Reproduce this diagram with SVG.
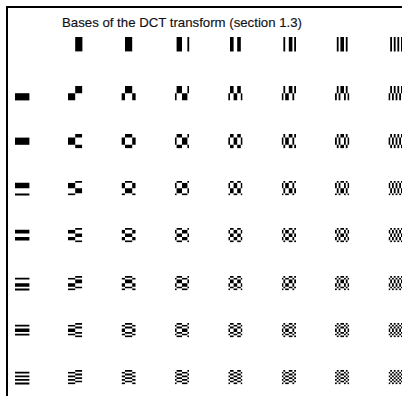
<svg xmlns="http://www.w3.org/2000/svg" xmlns:xlink="http://www.w3.org/1999/xlink" width="402" height="396" viewBox="0 0 402 396">
<style>
.title{font-family:"Liberation Sans Narrow","Liberation Sans",Arial,sans-serif;font-size:13px;fill:#101018;stroke:#101018;stroke-width:0.15}
.cell{fill:#000}
</style>
<defs>
<path id="full" d="M0 0h8v8h-8z"/>
<path id="xn1" d="M4 0h4v8h-4z"/>
<path id="xn2" d="M2 0h4v8h-4z"/>
<path id="xn3" d="M1 0h3v8h-3zM7 0h1v8h-1z"/>
<path id="xn4" d="M1 0h2v8h-2zM5 0h2v8h-2z"/>
<path id="xn5" d="M1 0h1v8h-1zM4 0h2v8h-2zM7 0h1v8h-1z"/>
<path id="xn6" d="M1 0h1v8h-1zM3 0h2v8h-2zM6 0h1v8h-1z"/>
<path id="xn7" d="M1 0h1v8h-1zM3 0h1v8h-1zM5 0h1v8h-1zM7 0h1v8h-1z"/>
<path id="xp1" d="M0 0h4v8h-4z"/>
<path id="xp2" d="M0 0h2v8h-2zM6 0h2v8h-2z"/>
<path id="xp3" d="M0 0h1v8h-1zM4 0h3v8h-3z"/>
<path id="xp4" d="M0 0h1v8h-1zM3 0h2v8h-2zM7 0h1v8h-1z"/>
<path id="xp5" d="M0 0h1v8h-1zM2 0h2v8h-2zM6 0h1v8h-1z"/>
<path id="xp6" d="M0 0h1v8h-1zM2 0h1v8h-1zM5 0h1v8h-1zM7 0h1v8h-1z"/>
<path id="xp7" d="M0 0h1v8h-1zM2 0h1v8h-1zM4 0h1v8h-1zM6 0h1v8h-1z"/>
<path id="hn1" d="M0 4h8v4h-8z"/>
<path id="hn2" d="M0 2h8v4h-8z"/>
<path id="hn3" d="M0 1h8v3h-8zM0 7h8v1h-8z"/>
<path id="hn4" d="M0 1h8v2h-8zM0 5h8v2h-8z"/>
<path id="hn5" d="M0 1h8v1h-8zM0 4h8v2h-8zM0 7h8v1h-8z"/>
<path id="hn6" d="M0 1h8v1h-8zM0 3h8v2h-8zM0 6h8v1h-8z"/>
<path id="hn7" d="M0 1h8v1h-8zM0 3h8v1h-8zM0 5h8v1h-8zM0 7h8v1h-8z"/>
<path id="hp1" d="M0 0h8v4h-8z"/>
<path id="hp2" d="M0 0h8v2h-8zM0 6h8v2h-8z"/>
<path id="hp3" d="M0 0h8v1h-8zM0 4h8v3h-8z"/>
<path id="hp4" d="M0 0h8v1h-8zM0 3h8v2h-8zM0 7h8v1h-8z"/>
<path id="hp5" d="M0 0h8v1h-8zM0 2h8v2h-8zM0 6h8v1h-8z"/>
<path id="hp6" d="M0 0h8v1h-8zM0 2h8v1h-8zM0 5h8v1h-8zM0 7h8v1h-8z"/>
<path id="hp7" d="M0 0h8v1h-8zM0 2h8v1h-8zM0 4h8v1h-8zM0 6h8v1h-8z"/>
<clipPath id="cn1"><use href="#hn1"/></clipPath>
<clipPath id="cn2"><use href="#hn2"/></clipPath>
<clipPath id="cn3"><use href="#hn3"/></clipPath>
<clipPath id="cn4"><use href="#hn4"/></clipPath>
<clipPath id="cn5"><use href="#hn5"/></clipPath>
<clipPath id="cn6"><use href="#hn6"/></clipPath>
<clipPath id="cn7"><use href="#hn7"/></clipPath>
<clipPath id="cp1"><use href="#hp1"/></clipPath>
<clipPath id="cp2"><use href="#hp2"/></clipPath>
<clipPath id="cp3"><use href="#hp3"/></clipPath>
<clipPath id="cp4"><use href="#hp4"/></clipPath>
<clipPath id="cp5"><use href="#hp5"/></clipPath>
<clipPath id="cp6"><use href="#hp6"/></clipPath>
<clipPath id="cp7"><use href="#hp7"/></clipPath>
</defs>
<rect width="402" height="396" fill="#fff"/>
<path d="M7 396V7H402" fill="none" stroke="#000" stroke-width="2"/>
<text class="title" x="62" y="27" textLength="240" lengthAdjust="spacingAndGlyphs">Bases of the DCT transform (section 1.3)</text>
<g id="header" class="cell">
<g id="c10" transform="translate(68,37) scale(1.8)"><use href="#xn1"/></g>
<g id="c20" transform="translate(121.4,37) scale(1.8)"><use href="#xn2"/></g>
<g id="c30" transform="translate(174.8,37) scale(1.8)"><use href="#xn3"/></g>
<g id="c40" transform="translate(228.2,37) scale(1.8)"><use href="#xn4"/></g>
<g id="c50" transform="translate(281.6,37) scale(1.8)"><use href="#xn5"/></g>
<g id="c60" transform="translate(335,37) scale(1.8)"><use href="#xn6"/></g>
<g id="c70" transform="translate(388.4,37) scale(1.8)"><use href="#xn7"/></g>
</g>
<g id="leftcol" class="cell">
<g id="c01" transform="translate(15,86) scale(1.8)"><use href="#hn1"/></g>
<g id="c02" transform="translate(15,134) scale(1.8)"><use href="#hn2"/></g>
<g id="c03" transform="translate(15,181) scale(1.8)"><use href="#hn3"/></g>
<g id="c04" transform="translate(15,228) scale(1.8)"><use href="#hn4"/></g>
<g id="c05" transform="translate(15,276) scale(1.8)"><use href="#hn5"/></g>
<g id="c06" transform="translate(15,323) scale(1.8)"><use href="#hn6"/></g>
<g id="c07" transform="translate(15,370) scale(1.8)"><use href="#hn7"/></g>
</g>
<g id="grid" class="cell">
<g id="c11" transform="translate(68,86) scale(1.8)"><use href="#xn1" clip-path="url(#cp1)"/><use href="#xp1" clip-path="url(#cn1)"/></g>
<g id="c21" transform="translate(121.4,86) scale(1.8)"><use href="#xn2" clip-path="url(#cp1)"/><use href="#xp2" clip-path="url(#cn1)"/></g>
<g id="c31" transform="translate(174.8,86) scale(1.8)"><use href="#xn3" clip-path="url(#cp1)"/><use href="#xp3" clip-path="url(#cn1)"/></g>
<g id="c41" transform="translate(228.2,86) scale(1.8)"><use href="#xn4" clip-path="url(#cp1)"/><use href="#xp4" clip-path="url(#cn1)"/></g>
<g id="c51" transform="translate(281.6,86) scale(1.8)"><use href="#xn5" clip-path="url(#cp1)"/><use href="#xp5" clip-path="url(#cn1)"/></g>
<g id="c61" transform="translate(335,86) scale(1.8)"><use href="#xn6" clip-path="url(#cp1)"/><use href="#xp6" clip-path="url(#cn1)"/></g>
<g id="c71" transform="translate(388.4,86) scale(1.8)"><use href="#xn7" clip-path="url(#cp1)"/><use href="#xp7" clip-path="url(#cn1)"/></g>
<g id="c12" transform="translate(68,134) scale(1.8)"><use href="#xn1" clip-path="url(#cp2)"/><use href="#xp1" clip-path="url(#cn2)"/></g>
<g id="c22" transform="translate(121.4,134) scale(1.8)"><use href="#xn2" clip-path="url(#cp2)"/><use href="#xp2" clip-path="url(#cn2)"/></g>
<g id="c32" transform="translate(174.8,134) scale(1.8)"><use href="#xn3" clip-path="url(#cp2)"/><use href="#xp3" clip-path="url(#cn2)"/></g>
<g id="c42" transform="translate(228.2,134) scale(1.8)"><use href="#xn4" clip-path="url(#cp2)"/><use href="#xp4" clip-path="url(#cn2)"/></g>
<g id="c52" transform="translate(281.6,134) scale(1.8)"><use href="#xn5" clip-path="url(#cp2)"/><use href="#xp5" clip-path="url(#cn2)"/></g>
<g id="c62" transform="translate(335,134) scale(1.8)"><use href="#xn6" clip-path="url(#cp2)"/><use href="#xp6" clip-path="url(#cn2)"/></g>
<g id="c72" transform="translate(388.4,134) scale(1.8)"><use href="#xn7" clip-path="url(#cp2)"/><use href="#xp7" clip-path="url(#cn2)"/></g>
<g id="c13" transform="translate(68,181) scale(1.8)"><use href="#xn1" clip-path="url(#cp3)"/><use href="#xp1" clip-path="url(#cn3)"/></g>
<g id="c23" transform="translate(121.4,181) scale(1.8)"><use href="#xn2" clip-path="url(#cp3)"/><use href="#xp2" clip-path="url(#cn3)"/></g>
<g id="c33" transform="translate(174.8,181) scale(1.8)"><use href="#xn3" clip-path="url(#cp3)"/><use href="#xp3" clip-path="url(#cn3)"/></g>
<g id="c43" transform="translate(228.2,181) scale(1.8)"><use href="#xn4" clip-path="url(#cp3)"/><use href="#xp4" clip-path="url(#cn3)"/></g>
<g id="c53" transform="translate(281.6,181) scale(1.8)"><use href="#xn5" clip-path="url(#cp3)"/><use href="#xp5" clip-path="url(#cn3)"/></g>
<g id="c63" transform="translate(335,181) scale(1.8)"><use href="#xn6" clip-path="url(#cp3)"/><use href="#xp6" clip-path="url(#cn3)"/></g>
<g id="c73" transform="translate(388.4,181) scale(1.8)"><use href="#xn7" clip-path="url(#cp3)"/><use href="#xp7" clip-path="url(#cn3)"/></g>
<g id="c14" transform="translate(68,228) scale(1.8)"><use href="#xn1" clip-path="url(#cp4)"/><use href="#xp1" clip-path="url(#cn4)"/></g>
<g id="c24" transform="translate(121.4,228) scale(1.8)"><use href="#xn2" clip-path="url(#cp4)"/><use href="#xp2" clip-path="url(#cn4)"/></g>
<g id="c34" transform="translate(174.8,228) scale(1.8)"><use href="#xn3" clip-path="url(#cp4)"/><use href="#xp3" clip-path="url(#cn4)"/></g>
<g id="c44" transform="translate(228.2,228) scale(1.8)"><use href="#xn4" clip-path="url(#cp4)"/><use href="#xp4" clip-path="url(#cn4)"/></g>
<g id="c54" transform="translate(281.6,228) scale(1.8)"><use href="#xn5" clip-path="url(#cp4)"/><use href="#xp5" clip-path="url(#cn4)"/></g>
<g id="c64" transform="translate(335,228) scale(1.8)"><use href="#xn6" clip-path="url(#cp4)"/><use href="#xp6" clip-path="url(#cn4)"/></g>
<g id="c74" transform="translate(388.4,228) scale(1.8)"><use href="#xn7" clip-path="url(#cp4)"/><use href="#xp7" clip-path="url(#cn4)"/></g>
<g id="c15" transform="translate(68,276) scale(1.8)"><use href="#xn1" clip-path="url(#cp5)"/><use href="#xp1" clip-path="url(#cn5)"/></g>
<g id="c25" transform="translate(121.4,276) scale(1.8)"><use href="#xn2" clip-path="url(#cp5)"/><use href="#xp2" clip-path="url(#cn5)"/></g>
<g id="c35" transform="translate(174.8,276) scale(1.8)"><use href="#xn3" clip-path="url(#cp5)"/><use href="#xp3" clip-path="url(#cn5)"/></g>
<g id="c45" transform="translate(228.2,276) scale(1.8)"><use href="#xn4" clip-path="url(#cp5)"/><use href="#xp4" clip-path="url(#cn5)"/></g>
<g id="c55" transform="translate(281.6,276) scale(1.8)"><use href="#xn5" clip-path="url(#cp5)"/><use href="#xp5" clip-path="url(#cn5)"/></g>
<g id="c65" transform="translate(335,276) scale(1.8)"><use href="#xn6" clip-path="url(#cp5)"/><use href="#xp6" clip-path="url(#cn5)"/></g>
<g id="c75" transform="translate(388.4,276) scale(1.8)"><use href="#xn7" clip-path="url(#cp5)"/><use href="#xp7" clip-path="url(#cn5)"/></g>
<g id="c16" transform="translate(68,323) scale(1.8)"><use href="#xn1" clip-path="url(#cp6)"/><use href="#xp1" clip-path="url(#cn6)"/></g>
<g id="c26" transform="translate(121.4,323) scale(1.8)"><use href="#xn2" clip-path="url(#cp6)"/><use href="#xp2" clip-path="url(#cn6)"/></g>
<g id="c36" transform="translate(174.8,323) scale(1.8)"><use href="#xn3" clip-path="url(#cp6)"/><use href="#xp3" clip-path="url(#cn6)"/></g>
<g id="c46" transform="translate(228.2,323) scale(1.8)"><use href="#xn4" clip-path="url(#cp6)"/><use href="#xp4" clip-path="url(#cn6)"/></g>
<g id="c56" transform="translate(281.6,323) scale(1.8)"><use href="#xn5" clip-path="url(#cp6)"/><use href="#xp5" clip-path="url(#cn6)"/></g>
<g id="c66" transform="translate(335,323) scale(1.8)"><use href="#xn6" clip-path="url(#cp6)"/><use href="#xp6" clip-path="url(#cn6)"/></g>
<g id="c76" transform="translate(388.4,323) scale(1.8)"><use href="#xn7" clip-path="url(#cp6)"/><use href="#xp7" clip-path="url(#cn6)"/></g>
<g id="c17" transform="translate(68,370) scale(1.8)"><use href="#xn1" clip-path="url(#cp7)"/><use href="#xp1" clip-path="url(#cn7)"/></g>
<g id="c27" transform="translate(121.4,370) scale(1.8)"><use href="#xn2" clip-path="url(#cp7)"/><use href="#xp2" clip-path="url(#cn7)"/></g>
<g id="c37" transform="translate(174.8,370) scale(1.8)"><use href="#xn3" clip-path="url(#cp7)"/><use href="#xp3" clip-path="url(#cn7)"/></g>
<g id="c47" transform="translate(228.2,370) scale(1.8)"><use href="#xn4" clip-path="url(#cp7)"/><use href="#xp4" clip-path="url(#cn7)"/></g>
<g id="c57" transform="translate(281.6,370) scale(1.8)"><use href="#xn5" clip-path="url(#cp7)"/><use href="#xp5" clip-path="url(#cn7)"/></g>
<g id="c67" transform="translate(335,370) scale(1.8)"><use href="#xn6" clip-path="url(#cp7)"/><use href="#xp6" clip-path="url(#cn7)"/></g>
<g id="c77" transform="translate(388.4,370) scale(1.8)"><use href="#xn7" clip-path="url(#cp7)"/><use href="#xp7" clip-path="url(#cn7)"/></g>
</g>
</svg>
